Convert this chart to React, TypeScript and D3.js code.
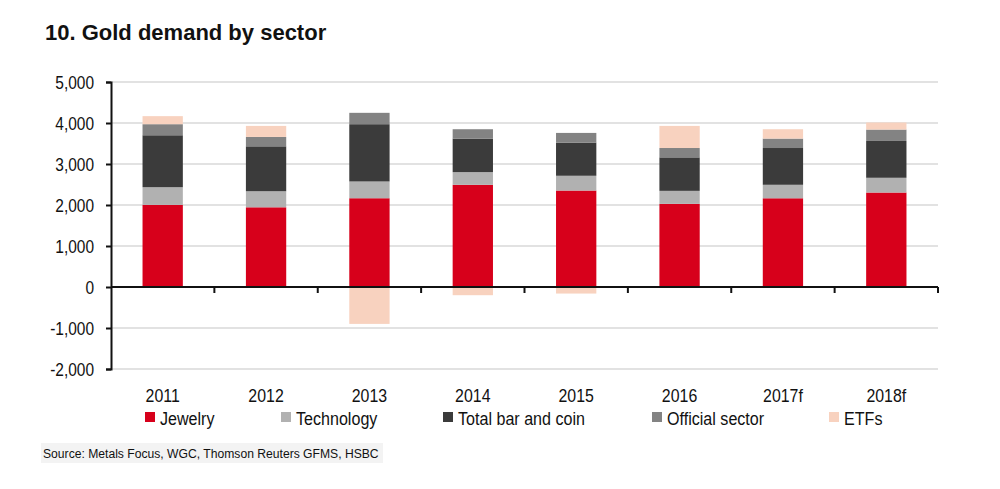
import { useEffect, useRef } from 'react'
import * as d3 from 'd3'

const years = ['2011', '2012', '2013', '2014', '2015', '2016', '2017f', '2018f']
const jewelry = [2002, 1944, 2165, 2492, 2353, 2027, 2164, 2304]
const technology = [432, 392, 409, 310, 360, 318, 329, 360]
const barAndCoin = [1267, 1095, 1397, 818, 809, 817, 897, 898]
const officialSector = [270, 229, 277, 228, 236, 228, 230, 278]
const etfs = [196, 269, -900, -200, -160, 539, 228, 172]

const seriesNames = ['Jewelry', 'Technology', 'Total bar and coin', 'Official sector', 'ETFs']
const seriesColors = ['#d7001b', '#b1b1b1', '#3b3b3b', '#838383', '#f8d2bf']
const yTicks = [-2000, -1000, 0, 1000, 2000, 3000, 4000, 5000]

const sans = '"Liberation Sans", Arial, sans-serif'

// no narrow font installed, so squeeze regular Arial horizontally
function narrowText(
  parent: d3.Selection<any, any, any, any>,
  x: number, y: number, label: string, size: number,
  anchor = 'start', squeeze = 0.87
) {
  parent.append('text')
    .attr('transform', `translate(${x},${y}) scale(${squeeze},1)`)
    .attr('text-anchor', anchor)
    .style('font-family', sans)
    .style('font-size', `${size}px`)
    .style('fill', '#111')
    .text(label)
}

export default function App() {
  const svgRef = useRef<SVGSVGElement>(null)

  useEffect(() => {
    if (!svgRef.current) return
    const svg = d3.select(svgRef.current)
    svg.selectAll('*').remove()

    const left = 111
    const right = 938
    const top = 82
    const bottom = 369

    const rows = years.map((y, i) => ({
      year: y,
      Jewelry: jewelry[i],
      Technology: technology[i],
      'Total bar and coin': barAndCoin[i],
      'Official sector': officialSector[i],
      ETFs: etfs[i],
    }))

    const x = d3.scaleBand<string>()
      .domain(years)
      .range([left, right])
      .paddingInner(0.61)
      .paddingOuter(0.305)

    const y = d3.scaleLinear().domain([-2000, 5000]).range([bottom, top])

    const stack = d3.stack<any>()
      .keys(seriesNames)
      .offset(d3.stackOffsetDiverging)
    const layers = stack(rows)

    // title
    svg.append('text')
      .attr('x', 45)
      .attr('y', 40)
      .style('font-family', sans)
      .style('font-weight', 'bold')
      .style('font-size', '22px')
      .style('fill', '#111')
      .text('10. Gold demand by sector')

    // gridlines
    svg.append('g')
      .selectAll('line')
      .data(yTicks.filter(t => t !== 0))
      .enter().append('line')
      .attr('x1', left)
      .attr('x2', right)
      .attr('y1', d => y(d))
      .attr('y2', d => y(d))
      .attr('stroke', '#d9d9d9')
      .attr('stroke-width', 1.5)

    // bars
    const g = svg.append('g')
    layers.forEach((layer, li) => {
      g.append('g')
        .attr('fill', seriesColors[li])
        .selectAll('rect')
        .data(layer)
        .enter().append('rect')
        .attr('x', d => x(d.data.year) as number)
        .attr('width', x.bandwidth())
        .attr('y', d => y(Math.max(d[0], d[1])))
        .attr('height', d => Math.abs(y(d[0]) - y(d[1])))
    })

    // y axis
    const yAxis = svg.append('g')
      .attr('transform', `translate(${left},0)`)
      .call(d3.axisLeft(y).tickValues(yTicks).tickSize(5).tickFormat(() => ''))
    yAxis.select('.domain').attr('stroke', '#111').attr('stroke-width', 2)
    yAxis.selectAll('.tick line').attr('stroke', '#111').attr('stroke-width', 2)
    const yLabels = svg.append('g')
    yTicks.forEach(t => {
      narrowText(yLabels, 94, y(t) + 6.5, d3.format(',')(t).replace('\u2212', '-'), 18, 'end', 0.86)
    })

    // x axis at zero
    const boundaries = years.map(yr => (x(yr) as number) - x.step() * x.paddingInner() / 2)
    boundaries.push(right)
    svg.append('line')
      .attr('x1', left)
      .attr('x2', right)
      .attr('y1', y(0))
      .attr('y2', y(0))
      .attr('stroke', '#111')
      .attr('stroke-width', 2)
    svg.append('g')
      .selectAll('line')
      .data(boundaries.slice(1))
      .enter().append('line')
      .attr('x1', d => d)
      .attr('x2', d => d)
      .attr('y1', y(0))
      .attr('y2', y(0) + 6)
      .attr('stroke', '#111')
      .attr('stroke-width', 2)

    // year labels
    const xLabels = svg.append('g')
    years.forEach(yr => {
      narrowText(xLabels, (x(yr) as number) + x.bandwidth() / 2, 402, yr, 18.5, 'middle', 0.86)
    })

    // legend
    const legendX = [145, 281, 443, 652, 829]
    const legend = svg.append('g')
    seriesNames.forEach((name, i) => {
      legend.append('rect')
        .attr('x', legendX[i])
        .attr('y', 412)
        .attr('width', 10)
        .attr('height', 10)
        .attr('fill', seriesColors[i])
      narrowText(legend, legendX[i] + 15, 424.5, name, 18.5, 'start', 0.87)
    })

    // source
    svg.append('rect')
      .attr('x', 41)
      .attr('y', 443)
      .attr('width', 342)
      .attr('height', 20)
      .attr('fill', '#f3f3f3')
    narrowText(svg, 43, 457.5, 'Source: Metals Focus, WGC, Thomson Reuters GFMS, HSBC', 13.5, 'start', 0.9)
  }, [])

  return (
    <svg
      ref={svgRef}
      width={1000}
      height={489}
      style={{ position: 'absolute', left: 0, top: 0, background: '#fff' }}
    />
  )
}
